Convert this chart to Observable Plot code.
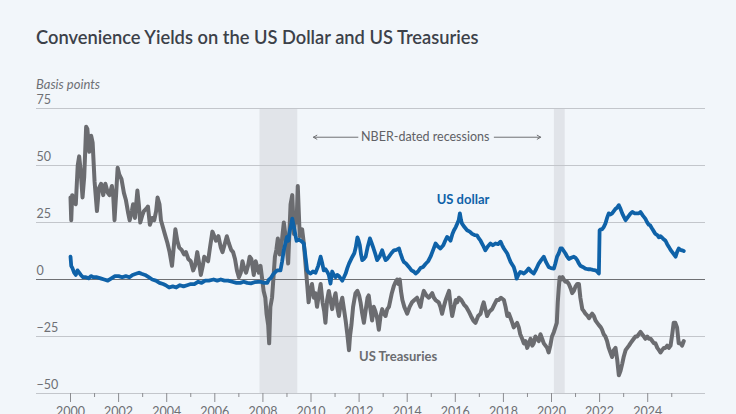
<!DOCTYPE html>
<html>
<head>
<meta charset="utf-8">
<script src="https://cdn.jsdelivr.net/npm/d3@7"></script>
<script src="https://cdn.jsdelivr.net/npm/@observablehq/plot@0.6"></script>
<style>
  body { margin: 0; background: #f2f6fa; font-family: Lato, "Open Sans", sans-serif; }
  #wrap { position: relative; width: 736px; height: 414px; overflow: hidden; background: #f2f6fa; }
  #title { position: absolute; left: 36px; top: 26px; font-size: 18.3px; font-weight: 600; color: #3c4149; white-space: nowrap; }
  #unit { position: absolute; left: 36px; top: 76px; font-size: 13px; font-style: italic; color: #6e7075; }
  #chart { position: absolute; left: 0; top: 90px; }
</style>
</head>
<body>
<div id="wrap">
  <div id="title">Convenience Yields on the US Dollar and US Treasuries</div>
  <div id="unit">Basis points</div>
  <div id="chart"></div>
</div>
<script>
// Convenience yield on US Treasuries, basis points: [decimal year, value]
const usTreasuries = [
  [2000.00,36],[2000.03,26],[2000.07,37],[2000.15,35],[2000.22,33],[2000.30,50],[2000.36,54],[2000.42,48],
  [2000.50,36],[2000.57,45],[2000.65,67],[2000.70,66],[2000.78,56],[2000.86,63],[2000.92,60],[2001.00,43],
  [2001.10,30],[2001.18,40],[2001.27,42],[2001.36,37],[2001.45,42],[2001.55,38],[2001.62,37],[2001.72,41],
  [2001.78,36],[2001.83,26],[2001.90,38],[2001.96,49],[2002.03,46],[2002.12,44],[2002.22,38],[2002.30,35],
  [2002.40,29],[2002.46,26],[2002.55,30],[2002.60,33],[2002.68,27],[2002.78,39],[2002.84,33],[2002.90,25],
  [2002.98,28],[2003.05,30],[2003.15,31],[2003.22,32],[2003.30,24],[2003.40,27],[2003.48,26],[2003.56,30],
  [2003.62,36],[2003.70,33],[2003.76,26],[2003.84,23],[2003.92,20],[2004.03,16],[2004.12,12],[2004.22,6],
  [2004.30,15],[2004.36,22],[2004.44,17],[2004.52,14],[2004.62,13],[2004.72,11],[2004.80,12],[2004.90,9],
  [2005.00,8],[2005.10,4],[2005.18,6],[2005.27,12],[2005.35,7],[2005.42,2],[2005.50,6],[2005.56,10],
  [2005.64,9],[2005.72,8],[2005.80,14],[2005.90,21],[2005.98,19],[2006.05,17],[2006.15,19],[2006.25,14],
  [2006.32,12],[2006.40,15],[2006.50,19],[2006.58,16],[2006.68,13],[2006.76,12],[2006.84,9],[2006.92,4],
  [2007.00,1],[2007.08,3],[2007.15,8],[2007.22,5],[2007.30,3],[2007.38,6],[2007.45,10],[2007.52,9],
  [2007.62,2],[2007.70,8],[2007.83,3],[2007.90,6],[2007.96,1],[2008.03,-5],[2008.10,-8],[2008.15,-15],
  [2008.22,-20],[2008.26,-28],[2008.31,-12],[2008.38,-8],[2008.42,-2],[2008.50,10],[2008.56,13],[2008.62,18],
  [2008.70,11],[2008.78,16],[2008.87,25],[2008.93,20],[2008.98,16],[2009.05,7],[2009.10,20],[2009.15,33],
  [2009.22,37],[2009.29,20],[2009.35,29],[2009.40,25],[2009.45,41],[2009.53,19],[2009.63,22],[2009.70,16],
  [2009.77,7],[2009.84,-2],[2009.90,-10],[2009.97,-5],[2010.04,-2],[2010.12,-8],[2010.18,-6],[2010.25,-12],
  [2010.32,-7],[2010.40,-2],[2010.48,-10],[2010.55,-14],[2010.60,-19],[2010.67,-9],[2010.74,-5],[2010.81,-9],
  [2010.88,-13],[2010.95,-9],[2011.02,-6],[2011.09,-12],[2011.16,-16],[2011.23,-11],[2011.30,-8],[2011.37,-13],
  [2011.44,-18],[2011.51,-24],[2011.58,-31],[2011.62,-25],[2011.68,-20],[2011.75,-12],[2011.85,-6],[2011.93,-5],
  [2012.00,-7],[2012.06,-10],[2012.13,-15],[2012.20,-19],[2012.28,-13],[2012.35,-8],[2012.40,-7],[2012.47,-13],
  [2012.54,-18],[2012.61,-12],[2012.68,-14],[2012.75,-17],[2012.82,-22],[2012.89,-16],[2012.96,-13],[2013.03,-15],
  [2013.10,-16],[2013.17,-13],[2013.24,-12],[2013.30,-9],[2013.36,-6],[2013.44,-3],[2013.52,-1],[2013.58,0],
  [2013.64,-2],[2013.69,0],[2013.74,-5],[2013.80,-9],[2013.88,-12],[2014.00,-15],[2014.10,-12],[2014.20,-10],
  [2014.30,-9],[2014.41,-8],[2014.48,-10],[2014.55,-12],[2014.62,-8],[2014.69,-5],[2014.80,-7],[2014.90,-8],
  [2015.04,-6],[2015.11,-8],[2015.18,-9],[2015.31,-10],[2015.38,-12],[2015.45,-15],[2015.52,-12],[2015.60,-9],
  [2015.67,-7],[2015.74,-5],[2015.80,-11],[2015.87,-16],[2015.95,-12],[2016.02,-9],[2016.08,-10],[2016.15,-8],
  [2016.25,-9],[2016.36,-11],[2016.45,-12],[2016.56,-14],[2016.65,-16],[2016.75,-18],[2016.84,-19],[2016.95,-16],
  [2017.05,-15],[2017.12,-12],[2017.18,-10],[2017.25,-13],[2017.32,-16],[2017.42,-14],[2017.53,-13],[2017.62,-11],
  [2017.72,-9],[2017.80,-9],[2017.90,-8],[2018.02,-9],[2018.09,-12],[2018.16,-16],[2018.23,-15],[2018.30,-17],
  [2018.37,-19],[2018.43,-21],[2018.50,-20],[2018.57,-19],[2018.64,-21],[2018.70,-24],[2018.78,-26],[2018.85,-28],
  [2018.92,-27],[2018.99,-30],[2019.06,-28],[2019.13,-26],[2019.20,-29],[2019.26,-28],[2019.33,-25],[2019.40,-26],
  [2019.47,-27],[2019.54,-24],[2019.61,-26],[2019.68,-28],[2019.75,-29],[2019.82,-30],[2019.88,-32],[2019.95,-29],
  [2020.02,-25],[2020.10,-23],[2020.16,-21],[2020.22,-19],[2020.26,-10],[2020.30,-4],[2020.34,1],[2020.40,0],
  [2020.46,1],[2020.51,0],[2020.58,-1],[2020.65,-1],[2020.72,-2],[2020.80,-4],[2020.86,-6],[2020.93,-5],
  [2021.00,-3],[2021.07,-2],[2021.14,-2],[2021.20,-8],[2021.28,-13],[2021.35,-14],[2021.41,-15],[2021.50,-16],
  [2021.56,-17],[2021.62,-16],[2021.69,-15],[2021.76,-16],[2021.83,-18],[2021.90,-19],[2021.97,-20],[2022.05,-21],
  [2022.10,-22],[2022.17,-24],[2022.24,-25],[2022.31,-27],[2022.38,-30],[2022.45,-32],[2022.52,-34],[2022.59,-31],
  [2022.66,-30],[2022.73,-35],[2022.80,-42],[2022.87,-40],[2022.94,-37],[2023.00,-34],[2023.08,-31],[2023.15,-30],
  [2023.22,-29],[2023.28,-28],[2023.35,-27],[2023.42,-26],[2023.49,-25],[2023.56,-25],[2023.63,-24],[2023.70,-23],
  [2023.77,-24],[2023.84,-25],[2023.90,-26],[2023.98,-25],[2024.05,-26],[2024.12,-26],[2024.19,-27],[2024.26,-28],
  [2024.32,-28],[2024.40,-30],[2024.47,-31],[2024.53,-32],[2024.60,-31],[2024.67,-30],[2024.74,-30],[2024.81,-29],
  [2024.88,-30],[2024.95,-29],[2025.02,-24],[2025.08,-19],[2025.15,-19],[2025.22,-21],[2025.29,-28],[2025.36,-28],
  [2025.43,-29],[2025.50,-27]
];

// Convenience yield on the US dollar, basis points: [decimal year, value]
const usDollar = [
  [2000.00,10],[2000.03,6],[2000.08,5],[2000.15,3],[2000.22,2],[2000.29,4],[2000.36,3],[2000.43,2],
  [2000.52,1],[2000.64,1],[2000.75,0.5],[2000.85,1.5],[2000.95,1],[2001.10,1],[2001.25,0.5],[2001.40,0],
  [2001.55,-0.5],[2001.70,0.5],[2001.85,1.5],[2002.00,1.5],[2002.15,1],[2002.30,1.5],[2002.45,1],[2002.58,2],
  [2002.72,2.5],[2002.85,3],[2002.95,2.5],[2003.10,2],[2003.25,1],[2003.40,0],[2003.55,-0.5],[2003.70,-1.5],
  [2003.85,-2],[2003.96,-2.5],[2004.10,-3.5],[2004.25,-3],[2004.40,-3.5],[2004.55,-2.5],[2004.70,-3],[2004.85,-2.5],
  [2005.00,-2],[2005.15,-2],[2005.30,-1],[2005.45,-1.5],[2005.60,-0.5],[2005.75,-0.5],[2005.95,0],[2006.10,-0.5],
  [2006.25,0],[2006.40,-0.5],[2006.55,-0.5],[2006.72,-1],[2006.90,-1.5],[2007.06,-1.5],[2007.20,-1],[2007.35,-1.5],
  [2007.50,-1.7],[2007.65,-1.2],[2007.80,-1],[2007.90,-1],[2008.05,-1.5],[2008.18,-1.5],[2008.25,0],[2008.32,0.5],
  [2008.45,2.6],[2008.59,4],[2008.73,4],[2008.80,8],[2008.87,13],[2008.94,16],[2009.00,18.7],[2009.06,17],
  [2009.12,21.6],[2009.18,24],[2009.22,26.7],[2009.27,24],[2009.31,22],[2009.36,19],[2009.40,17],[2009.50,17.5],
  [2009.57,17],[2009.64,16.5],[2009.70,15.8],[2009.77,10],[2009.84,4],[2009.91,3],[2009.98,2.6],[2010.08,3.5],
  [2010.19,3],[2010.30,6],[2010.40,10],[2010.47,7],[2010.53,4],[2010.60,4.5],[2010.67,3.5],[2010.74,2],
  [2010.81,-1.8],[2010.88,3.5],[2010.95,2],[2011.02,1],[2011.09,2],[2011.16,1.5],[2011.23,0.5],[2011.30,-0.5],
  [2011.37,1],[2011.44,2.6],[2011.51,5],[2011.58,7],[2011.65,8.5],[2011.72,10],[2011.80,11.5],[2011.86,14],
  [2011.93,18.5],[2011.98,17],[2012.03,15],[2012.08,11],[2012.13,8.5],[2012.20,9],[2012.27,10],[2012.35,14],
  [2012.45,18],[2012.52,16],[2012.60,13.6],[2012.68,11],[2012.75,8.5],[2012.85,10],[2012.96,12.8],[2013.03,10.5],
  [2013.10,8.5],[2013.17,9],[2013.24,10],[2013.34,11.5],[2013.45,12.8],[2013.55,13],[2013.66,13.6],[2013.72,11.5],
  [2013.80,9],[2013.86,7.7],[2013.95,7],[2014.07,5.5],[2014.18,4],[2014.27,3.5],[2014.35,2.6],[2014.45,3.5],
  [2014.55,5],[2014.66,5.5],[2014.76,6.8],[2014.87,8],[2014.97,10],[2015.08,13],[2015.18,15.8],[2015.28,14.5],
  [2015.38,13.6],[2015.50,15],[2015.58,17],[2015.66,18.7],[2015.73,18],[2015.80,17],[2015.88,20],[2015.94,21.5],
  [2016.02,23],[2016.08,24.5],[2016.14,26],[2016.19,29],[2016.24,26],[2016.28,24.5],[2016.38,23],[2016.49,21.6],
  [2016.60,21],[2016.70,20],[2016.80,19.5],[2016.90,19.4],[2016.98,18],[2017.05,17],[2017.15,15],[2017.25,12.8],
  [2017.35,14.5],[2017.46,15.8],[2017.56,15],[2017.67,15.8],[2017.78,15.5],[2017.88,16.6],[2017.95,15],[2018.02,13.6],
  [2018.09,12.5],[2018.16,11.4],[2018.23,9.5],[2018.30,7.7],[2018.37,6.5],[2018.43,5.5],[2018.50,3],[2018.55,0.4],
  [2018.62,2],[2018.70,3.3],[2018.78,3],[2018.85,2.6],[2018.95,3.5],[2019.05,4.8],[2019.15,3.5],[2019.26,2.6],
  [2019.36,4.5],[2019.47,7],[2019.57,8.5],[2019.68,10],[2019.78,7.5],[2019.88,5.5],[2019.98,5],[2020.10,4.8],
  [2020.16,7],[2020.23,10],[2020.30,11.4],[2020.37,13.6],[2020.44,13.6],[2020.51,12.5],[2020.58,11.4],[2020.65,10],
  [2020.72,9],[2020.82,9.5],[2020.93,10],[2021.00,9.5],[2021.07,8.5],[2021.14,7],[2021.20,6],[2021.30,5.5],
  [2021.41,4.8],[2021.52,4.5],[2021.62,4.5],[2021.72,4.2],[2021.83,4],[2021.90,3.5],[2021.97,2.6],[2022.00,21.6],
  [2022.05,22],[2022.10,22],[2022.17,23],[2022.24,24.5],[2022.31,27],[2022.38,29],[2022.45,28.5],[2022.52,29],
  [2022.59,30],[2022.66,31],[2022.73,31.5],[2022.80,32.6],[2022.87,31],[2022.94,29],[2023.01,27.5],[2023.08,26],
  [2023.15,27],[2023.22,28],[2023.29,29],[2023.36,29.6],[2023.46,29],[2023.56,29],[2023.63,29],[2023.70,29.6],
  [2023.80,28],[2023.90,26.7],[2023.98,25],[2024.05,24],[2024.10,23.8],[2024.20,22],[2024.26,21],[2024.32,20],
  [2024.40,19.5],[2024.46,18.5],[2024.53,19],[2024.63,18],[2024.74,17],[2024.81,15.5],[2024.88,14.3],[2024.95,13],
  [2025.02,12],[2025.09,11],[2025.16,10],[2025.22,12],[2025.29,13.6],[2025.36,13],[2025.43,12.8],[2025.50,12.5]
];

// NBER-dated recessions (decimal years)
const recessionStart = [2007.88, 2020.12];
const recessionEnd = [2009.45, 2020.57];

// Axis ticks
const yTicks = [-50, -25, 0, 25, 50, 75];
const majorYears = [2000, 2002, 2004, 2006, 2008, 2010, 2012, 2014, 2016, 2018, 2020, 2022, 2024];
const minorYears = [2001, 2003, 2005, 2007, 2009, 2011, 2013, 2015, 2017, 2019, 2021, 2023, 2025];

// Annotation: arrows flanking the recession label
const noteText = ["NBER-dated recessions"];
const noteX = [2014.75];
const noteY = [62.4];
const arrowFrom = [2011.95, 2017.62];
const arrowTo = [2010.1, 2019.55];

// Series labels
const seriesLabels = ["US dollar", "US Treasuries"];
const seriesLabelX = [2016.32, 2013.62];
const seriesLabelY = [34.8, -33.9];

const blue = "#0f62a8";
const grey = "#6b6c70";

const toRows = arr => arr.map(([year, value]) => ({year, value}));
const recessions = recessionStart.map((s, i) => ({start: s, end: recessionEnd[i]}));
const arrows = arrowFrom.map((f, i) => ({x1: f, x2: arrowTo[i], y: noteY[0]}));
const notes = noteText.map((t, i) => ({text: t, x: noteX[i], y: noteY[i]}));
const labels = seriesLabels.map((t, i) => ({text: t, x: seriesLabelX[i], y: seriesLabelY[i], color: i === 0 ? blue : grey}));

const chart = Plot.plot({
  width: 736,
  height: 324,
  marginTop: 18,
  marginBottom: 21,
  marginLeft: 36,
  marginRight: 31,
  style: {background: "transparent", fontFamily: "Lato, 'Open Sans', sans-serif", fontSize: "12.5px", color: "#6e7075", overflow: "visible"},
  x: {type: "linear", domain: [1998.586, 2026.403]},
  y: {domain: [-50, 75]},
  marks: [
    Plot.rect(recessions, {x1: "start", x2: "end", y1: -50, y2: 75, fill: "#e1e4e9"}),
    Plot.ruleY(yTicks.filter(d => d !== 0), {stroke: "#c3c6cb", strokeWidth: 1}),
    Plot.ruleY([0], {stroke: "#6f7073", strokeWidth: 1}),
    Plot.axisY({ticks: yTicks, tickSize: 0, tickPadding: 0, textAnchor: "start", dy: -9, label: null, fill: "#6e7075"}),
    Plot.axisX({ticks: majorYears, tickSize: 9, tickPadding: 5, tickFormat: "d", label: null, stroke: "#8b8c90", fill: "#6e7075"}),
    Plot.axisX({ticks: minorYears, tickSize: 4, tickFormat: () => "", label: null, stroke: "#8b8c90"}),
    Plot.arrow(arrows, {x1: "x1", x2: "x2", y1: "y", y2: "y", stroke: "#707174", strokeWidth: 1, headLength: 6, bend: false}),
    Plot.text(notes, {x: "x", y: "y", text: "text", fill: "#606166", fontSize: 12.5}),
    Plot.line(toRows(usTreasuries), {x: "year", y: "value", stroke: grey, strokeWidth: 4, strokeLinejoin: "round"}),
    Plot.line(toRows(usDollar), {x: "year", y: "value", stroke: blue, strokeWidth: 3.8, strokeLinejoin: "round"}),
    Plot.text(labels, {x: "x", y: "y", text: "text", fill: "color", fontSize: 13, fontWeight: 700})
  ]
});

document.getElementById("chart").appendChild(chart);
</script>
</body>
</html>
